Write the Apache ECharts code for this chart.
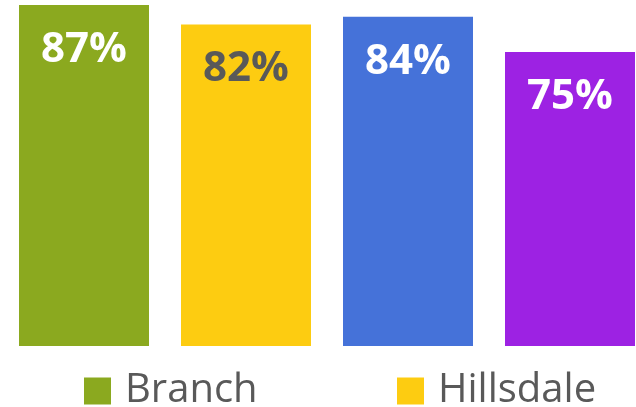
<!DOCTYPE html>
<html>
<head>
<meta charset="utf-8">
<script src="https://cdn.jsdelivr.net/npm/echarts@6/dist/echarts.min.js"></script>
<style>html,body{margin:0;padding:0;background:#fff}#c{width:636px;height:407px}</style>
</head>
<body>
<div id="c"></div>
<script>
const categories = ['Branch', 'Hillsdale', 'C', 'D'];
const seriesNames = ['Branch', 'Hillsdale', '', ''];
const values = [87, 82, 84, 75];
const legendNames = ['Branch', 'Hillsdale'];
const colors = ['#8BA91F', '#FDCC11', '#4572D9', '#9D22E3'];
const labelColors = ['#ffffff', '#595959', '#ffffff', '#ffffff'];

const chart = echarts.init(document.getElementById('c'));
const series = values.map((v, i) => ({
  name: seriesNames[i] || ('s' + i),
  type: 'bar',
  barWidth: 130,
  barGap: '-100%',
  data: categories.map((c, j) => j === i ? v : '-'),
  itemStyle: { color: colors[i] },
  label: {
    show: true,
    position: 'insideTop',
    distance: 24,
    formatter: '{c}%',
    color: labelColors[i],
    fontFamily: 'Open Sans',
    fontWeight: 'bold',
    fontSize: 42
  }
}));

const legendStyle = {
  itemWidth: 27, itemHeight: 27, icon: 'rect', padding: 0,
  textStyle: { fontFamily: 'Open Sans', fontSize: 40, color: '#595959', padding: [0, 0, 0, 9] }
};

chart.setOption({
  animation: false,
  grid: { left: 3, right: -15, top: 1, bottom: 61, outerBoundsMode: 'none', containLabel: false },
  xAxis: { type: 'category', data: categories, show: false },
  yAxis: { type: 'value', min: 0, max: 88, show: false, splitLine: { show: false } },
  legend: [
    Object.assign({ data: [legendNames[0]], left: 84, top: 371 }, legendStyle),
    Object.assign({ data: [legendNames[1]], left: 397, top: 371 }, legendStyle)
  ],
  series: series
});
</script>
</body>
</html>
